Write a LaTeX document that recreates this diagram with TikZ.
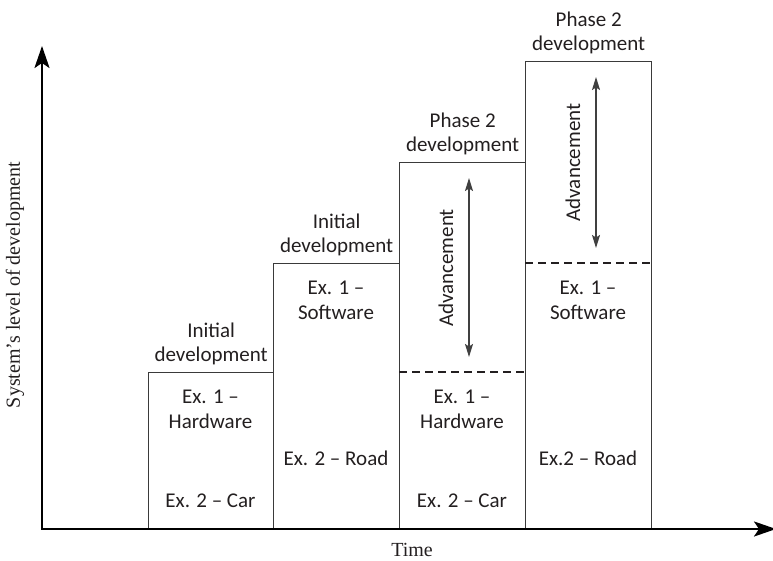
\documentclass[tikz,border=0pt]{standalone}
\usepackage{fontspec}
\setmainfont{Carlito}
\newfontfamily\axisfont{Liberation Serif}
\usetikzlibrary{arrows.meta}

\definecolor{ink}{HTML}{231F20}
\definecolor{edge}{HTML}{3A3A3A}
\definecolor{advgray}{HTML}{404040}

\begin{document}
\begin{tikzpicture}[x=1pt,y=-1pt,
  stage/.style={draw=edge, line width=1.3pt, anchor=south west, inner sep=0pt},
  lbl/.style={font=\fontsize{21}{24}\selectfont, text=ink, align=center, inner sep=0pt},
  axlbl/.style={font=\axisfont\fontsize{20}{24}\selectfont, text=ink, inner sep=0pt},
  axisline/.style={draw=black, line width=2.4pt,
    {Stealth[length=22pt,width=15pt,inset=5pt]}-{Stealth[length=22pt,width=15pt,inset=5pt]}},
  advarrow/.style={draw=advgray, line width=1.4pt,
    {Stealth[length=13pt,width=8pt,inset=2.5pt]}-{Stealth[length=13pt,width=8pt,inset=2.5pt]}},
  splitline/.style={draw=ink, line width=1.8pt, dash pattern=on 8pt off 5pt}
]
\useasboundingbox (0,0) rectangle (773,561);

% stage boxes, standing on the time axis
\node[stage, minimum width=125pt, minimum height=156pt] (b1) at (148,529) {};
\node[stage, minimum width=126pt, minimum height=265pt] (b2) at (273,529) {};
\node[stage, minimum width=126pt, minimum height=366pt] (b3) at (399,529) {};
\node[stage, minimum width=126pt, minimum height=467pt] (b4) at (525,529) {};

% dashed dividers at the level reached by the previous stage
\draw[splitline] (b3.west |- b1.north) -- (b3.east |- b1.north);
\draw[splitline] (b4.west |- b2.north) -- (b4.east |- b2.north);

% axes
\coordinate (O) at (42,529);
\coordinate (ytip) at (42,46);
\coordinate (xtip) at (776,529);
\draw[axisline] (ytip) -- (O) -- (xtip);

\node[axlbl, rotate=90] (ylab) at (15,285) {System’s level of development};
\node[axlbl, anchor=base] (xlab) at (412,556) {Time};

% headings above each stage
\node[lbl, anchor=south, yshift=6.5pt] (h1) at (b1.north) {Initial\\development};
\node[lbl, anchor=south, yshift=6.5pt] (h2) at (b2.north) {Initial\\development};
\node[lbl, anchor=south, yshift=6.5pt] (h3) at (b3.north) {Phase 2\\development};
\node[lbl, anchor=south, yshift=6.5pt] (h4) at (b4.north) {Phase 2\\development};

% examples inside the stages
\node[lbl, anchor=north] (e1a) at (210.5,390) {Ex. 1 –\\[1pt]Hardware};
\node[lbl, anchor=base] (e1b) at (210.5,507) {Ex. 2 – Car};
\node[lbl, anchor=north] (e2a) at (336,281) {Ex. 1 –\\[1pt]Software};
\node[lbl, anchor=base] (e2b) at (336,465) {Ex. 2 – Road};
\node[lbl, anchor=north] (e3a) at (462,390) {Ex. 1 –\\[1pt]Hardware};
\node[lbl, anchor=base] (e3b) at (462,507) {Ex. 2 – Car};
\node[lbl, anchor=north] (e4a) at (588,281) {Ex. 1 –\\[1pt]Software};
\node[lbl, anchor=base] (e4b) at (588,465) {Ex.2 – Road};

% advancement arrows
\coordinate (a3t) at (469,178);
\coordinate (a3b) at (469,357);
\draw[advarrow] (a3t) -- (a3b);
\node[lbl, rotate=90] (a3) at (446,268) {Advancement};

\coordinate (a4t) at (596,77);
\coordinate (a4b) at (596,248);
\draw[advarrow] (a4t) -- (a4b);
\node[lbl, rotate=90] (a4) at (573,162.5) {Advancement};
\end{tikzpicture}
\end{document}
